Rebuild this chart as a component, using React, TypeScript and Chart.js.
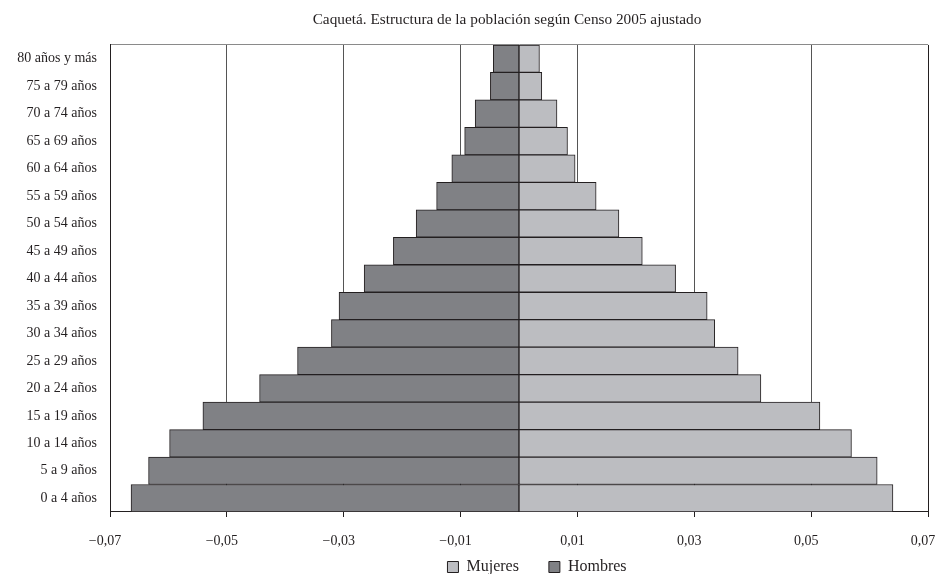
import React, { useEffect, useRef } from "react";
import { Chart, registerables } from "chart.js";

Chart.register(...registerables);

const ageGroups = [
  "80 años y más",
  "75 a 79 años",
  "70 a 74 años",
  "65 a 69 años",
  "60 a 64 años",
  "55 a 59 años",
  "50 a 54 años",
  "45 a 49 años",
  "40 a 44 años",
  "35 a 39 años",
  "30 a 34 años",
  "25 a 29 años",
  "20 a 24 años",
  "15 a 19 años",
  "10 a 14 años",
  "5 a 9 años",
  "0 a 4 años",
];

const mujeres = [
  0.0035, 0.0039, 0.0065, 0.0083, 0.0096, 0.0132, 0.0171, 0.0211, 0.0268,
  0.0322, 0.0335, 0.0375, 0.0414, 0.0515, 0.0569, 0.0613, 0.064,
];

const hombres = [
  -0.0044, -0.0049, -0.0075, -0.0093, -0.0115, -0.0141, -0.0176, -0.0215,
  -0.0265, -0.0308, -0.0321, -0.0379, -0.0444, -0.0541, -0.0598, -0.0634,
  -0.0664,
];

const xTicks = [-0.07, -0.05, -0.03, -0.01, 0.01, 0.03, 0.05, 0.07];

const titleText = "Caquetá. Estructura de la población según Censo 2005 ajustado";
const FONT = "'Liberation Serif', 'DejaVu Serif', serif";
const TEXT = "#231f20";

const fmt = (v: number) =>
  (v < 0 ? "\u2212" : "") + Math.abs(v).toFixed(2).replace(".", ",");

const shiftPlugin = {
  id: "shiftBoxes",
  afterLayout(chart: any) {
    const t = chart.titleBlock;
    if (t) {
      t.left += 43;
      t.right += 43;
    }
    const l = chart.legend;
    if (l) {
      l.left += 73;
      l.right += 73;
      l.top -= 23;
    }
  },
};

export default function App() {
  const ref = useRef<HTMLCanvasElement | null>(null);

  useEffect(() => {
    document.body.style.margin = "0";
    const canvas = ref.current;
    if (!canvas) return;
    const chart = new Chart(canvas, {
      type: "bar",
      data: {
        labels: ageGroups,
        datasets: [
          {
            label: "Mujeres",
            data: mujeres,
            backgroundColor: "#bcbdc1",
            borderColor: "#231f20",
            borderWidth: 1,
            borderSkipped: false,
            barPercentage: 1,
            categoryPercentage: 1,
          },
          {
            label: "Hombres",
            data: hombres,
            backgroundColor: "#808185",
            borderColor: "#231f20",
            borderWidth: 1,
            borderSkipped: false,
            barPercentage: 1,
            categoryPercentage: 1,
          },
        ],
      },
      plugins: [shiftPlugin],
      options: {
        indexAxis: "y",
        animation: false,
        responsive: false,
        maintainAspectRatio: false,
        layout: { padding: { left: 0, right: 10, top: 0, bottom: 0 }, autoPadding: false },
        plugins: {
          title: {
            display: true,
            text: titleText,
            color: TEXT,
            font: { family: FONT, size: 15.3, weight: "normal" },
            padding: { top: 11, bottom: 15.6 },
          },
          legend: {
            display: true,
            position: "bottom",
            maxHeight: 22,
            labels: {
              color: TEXT,
              font: { family: FONT, size: 16 },
              boxWidth: 11,
              boxHeight: 11,
              padding: 30,
            },
          },
          tooltip: { enabled: false },
        },
        scales: {
          x: {
            type: "linear",
            stacked: true,
            min: -0.07,
            max: 0.07,
            afterBuildTicks: (scale: any) => {
              scale.ticks = xTicks.map((v) => ({ value: v }));
            },
            afterFit: (scale: any) => {
              scale.height = 40;
              scale.paddingLeft = 0;
              scale.paddingRight = 0;
            },
            ticks: {
              autoSkip: false,
              maxRotation: 0,
              padding: 16,
              labelOffset: -5,
              color: TEXT,
              font: { family: FONT, size: 14 },
              callback: (v: any) => fmt(Number(v)),
            },
            grid: {
              drawTicks: true,
              tickLength: 5,
              tickColor: "#231f20",
              color: (ctx: any) => {
                const v = ctx.tick ? ctx.tick.value : null;
                if (v === null) return "rgba(0,0,0,0)";
                if (Math.abs(v + 0.07) < 1e-9) return "rgba(0,0,0,0)";
                if (Math.abs(v - 0.07) < 1e-9) return "#231f20";
                return "#555555";
              },
              lineWidth: 1,
            },
            border: { display: true, color: "#231f20", width: 1 },
          },
          y: {
            type: "category",
            stacked: true,
            afterFit: (scale: any) => {
              scale.width = 110;
              scale.paddingTop = 0;
              scale.paddingBottom = 0;
            },
            ticks: {
              padding: 13,
              color: TEXT,
              font: { family: FONT, size: 14 },
              autoSkip: false,
            },
            grid: {
              drawTicks: false,
              color: (ctx: any) => (ctx.index === 0 ? "#8a8a8a" : "rgba(0,0,0,0)"),
              lineWidth: 1,
            },
            border: { display: true, color: "#231f20", width: 1 },
          },
        },
      },
    } as any);
    return () => chart.destroy();
  }, []);

  return (
    <div style={{ width: 938, height: 574 }}>
      <canvas ref={ref} width={938} height={574} style={{ display: "block", width: 938, height: 574 }} />
    </div>
  );
}
